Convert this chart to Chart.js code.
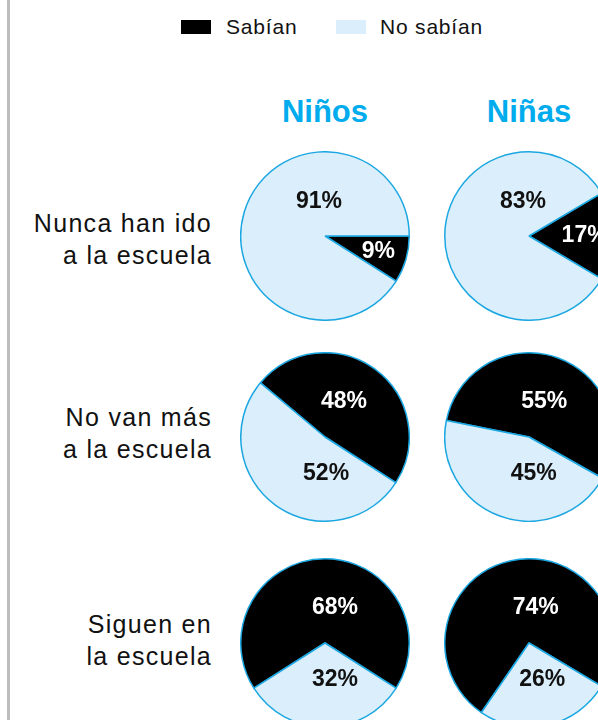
<!DOCTYPE html>
<html>
<head>
<meta charset="utf-8">
<script src="https://cdn.jsdelivr.net/npm/chart.js@4/dist/chart.umd.min.js"></script>
<style>
  html, body { margin: 0; padding: 0; background: #fff; }
  body { width: 598px; height: 720px; overflow: hidden; position: relative; font-family: "Liberation Sans", Arial, sans-serif; }
  .rule { position: absolute; left: 7px; top: 0; width: 3px; height: 720px; background: #bdbdbd; }
  .swatch { position: absolute; top: 20px; width: 30px; height: 14px; }
  .legtext { position: absolute; top: 16px; font-size: 21px; line-height: 21px; letter-spacing: 0.8px; color: #111; white-space: nowrap; }
  .group { position: absolute; top: 96px; width: 160px; margin-left: -80px; text-align: center; font-size: 31px; line-height: 31px; font-weight: bold; color: #00aced; }
  .rowlab { position: absolute; left: 0; width: 212px; text-align: right; font-size: 25px; line-height: 32px; letter-spacing: 1.3px; color: #111; }
  canvas.pie { position: absolute; }
</style>
</head>
<body>
<div class="rule"></div>
<div id="legend"></div>
<div id="heads"></div>
<div id="rowlabels"></div>
<div id="pies"></div>

<script>
// DADOS
const series = ['Sabían', 'No sabían']
const groups = ['Niños', 'Niñas']
const rowLabels = [
  ['Nunca han ido', 'a la escuela'],
  ['No van más', 'a la escuela'],
  ['Siguen en', 'la escuela']
]
const ninosSabian = [9, 48, 68]
const ninosNoSabian = [91, 52, 32]
const ninasSabian = [17, 55, 74]
const ninasNoSabian = [83, 45, 26]

// ESTILO / LAYOUT
const colors = ['#000000', '#dbeefb']
const textColors = ['#ffffff', '#111111']
const lineBlue = '#1ba7e1'
const colX = [325, 529]
const rowY = [236, 437, 643]
const rowTextTop = [207, 401, 608]
// ângulo inicial da fatia preta em cada pizza
const rotations = [[90, 59.4], [-50, -78.7], [237.6, 214.4]]
const SIZE = 170

// legenda
let legend = document.querySelector('#legend')
let legX = [[181, 226], [336, 380]]
series.forEach((s, i) => {
  legend.insertAdjacentHTML('beforeend',
    `<div class="swatch" style="left:${legX[i][0]}px;background:${colors[i]}"></div>
     <div class="legtext" style="left:${legX[i][1]}px">${s}</div>`)
})

// títulos das colunas
let heads = document.querySelector('#heads')
groups.forEach((g, i) => {
  heads.insertAdjacentHTML('beforeend', `<div class="group" style="left:${colX[i]}px">${g}</div>`)
})

// rótulos das linhas
let rl = document.querySelector('#rowlabels')
rowLabels.forEach((lines, r) => {
  rl.insertAdjacentHTML('beforeend', `<div class="rowlab" style="top:${rowTextTop[r]}px">${lines.join('<br>')}</div>`)
})

// plugin dos percentuais dentro das fatias
const pctLabels = {
  id: 'pctLabels',
  afterDatasetsDraw(chart) {
    const ctx = chart.ctx
    const values = chart.data.datasets[0].data
    const total = values.reduce((a, b) => a + b, 0)
    ctx.save()
    ctx.font = 'bold 23px "Liberation Sans", Arial, sans-serif'
    ctx.textAlign = 'center'
    ctx.textBaseline = 'middle'
    chart.getDatasetMeta(0).data.forEach((arc, i) => {
      const share = values[i] / total
      const mid = (arc.startAngle + arc.endAngle) / 2
      let x, y
      if (share < 0.2) {
        // fatia pequena: rótulo no meio da fatia
        x = arc.x + Math.cos(mid) * arc.outerRadius * 0.66
        y = arc.y + Math.sin(mid) * arc.outerRadius * 0.66
      } else if (share > 0.75) {
        // fatia dominante: rótulo acima do centro
        x = arc.x - 6
        y = arc.y - 34
      } else {
        x = arc.x + 10 + Math.cos(mid) * 15
        y = arc.y + (Math.sin(mid) >= 0 ? 37 : -35)
      }
      ctx.fillStyle = textColors[i]
      ctx.fillText(values[i] + '%', x, y)
    })
    ctx.restore()
  }
}

// pizzas
let pies = document.querySelector('#pies')
const sabian = [ninosSabian, ninasSabian]
const noSabian = [ninosNoSabian, ninasNoSabian]
for (let r = 0; r < rowY.length; r++) {
  for (let c = 0; c < groups.length; c++) {
    let cv = document.createElement('canvas')
    cv.className = 'pie'
    cv.width = SIZE
    cv.height = SIZE
    cv.style.width = SIZE + 'px'
    cv.style.height = SIZE + 'px'
    cv.style.left = (colX[c] - SIZE / 2) + 'px'
    cv.style.top = (rowY[r] - SIZE / 2) + 'px'
    pies.appendChild(cv)
    new Chart(cv, {
      type: 'pie',
      data: {
        labels: series,
        datasets: [{
          data: [sabian[c][r], noSabian[c][r]],
          backgroundColor: colors,
          borderColor: lineBlue,
          borderWidth: 1.5
        }]
      },
      options: {
        responsive: false,
        animation: false,
        events: [],
        rotation: rotations[r][c],
        layout: { padding: 0 },
        plugins: { legend: { display: false }, tooltip: { enabled: false } }
      },
      plugins: [pctLabels]
    })
  }
}
</script>
</body>
</html>
